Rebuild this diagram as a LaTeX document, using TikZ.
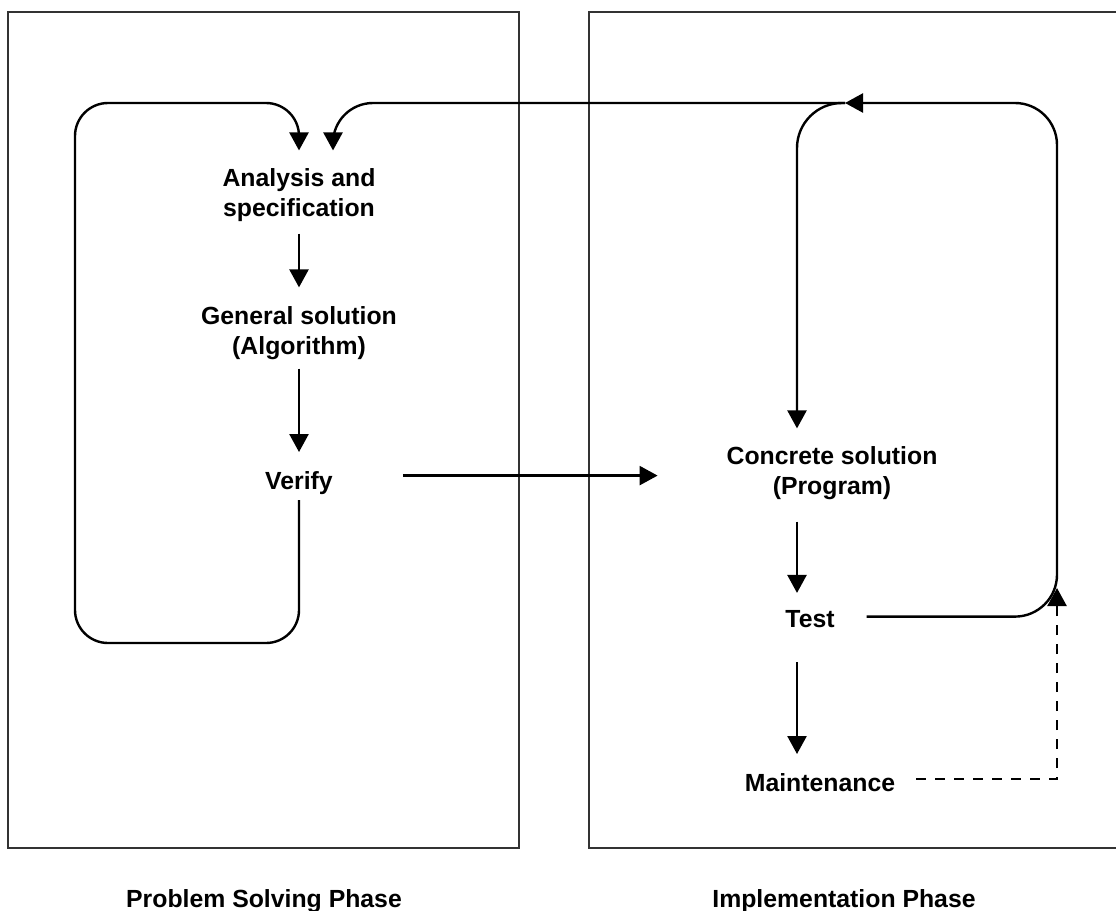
\documentclass[tikz,border=0pt]{standalone}
\usepackage{fontspec}
\setmainfont{Liberation Sans}
\usetikzlibrary{arrows.meta,calc}
\begin{document}
\begin{tikzpicture}[x=1pt,y=-1pt,
  lbl/.style={font=\bfseries\fontsize{24.8}{30}\selectfont, inner sep=0pt, outer sep=0pt, align=center},
  tip/.style={-{Triangle[width=19pt,length=18pt]}},
  arr/.style={line width=2.4pt, tip},
  frame/.style={line width=2.5pt, draw=black!80},
  dashline/.style={line width=2.4pt, dash pattern=on 10pt off 9pt}
]
\useasboundingbox[fill=white] (0,0) rectangle (1116,910);
% phase frames
\draw[frame] (8,12) rectangle (519,848);
\draw[frame] (1116,12) -- (589,12) -- (589,848) -- (1116,848);

% nodes
\node[lbl, anchor=center] (ana) at (299,195) {Analysis and\\specification};
\node[lbl, anchor=center] (gen) at (299,333) {General solution\\(Algorithm)};
\node[lbl, anchor=base]   (ver) at (299,489) {Verify};
\node[lbl, anchor=center] (con) at (832,473) {Concrete solution\\(Program)};
\node[lbl, anchor=base]   (tst) at (810,627) {Test};
\node[lbl, anchor=base]   (mnt) at (820,791) {Maintenance};
\node[lbl, anchor=base]   (psp) at (264,907) {Problem Solving Phase};
\node[lbl, anchor=base]   (ipl) at (844,907) {Implementation Phase};

% loop corner coordinates
\coordinate (LB) at (75,643);
\coordinate (LT) at (75,103);
\coordinate (RT) at (1057,103);
\coordinate (JN) at (845,103);
\coordinate (CT) at (797,103);
\coordinate (DT) at (1057,588);

% left column
\draw[arr] ([yshift=-12pt]ana.south) -- ([yshift=19pt]gen.north);
\draw[arr] ([yshift=-9pt]gen.south) -- ([yshift=19pt]ver.north);
\draw[arr, rounded corners=33pt] ([yshift=-6pt]ver.south) |- (LB) -- (LT) -| ([yshift=18pt]ana.north);

% verify -> concrete
\draw[arr] ([xshift=70pt,yshift=7pt]ver.east) coordinate (vs) -- ([xshift=-69pt]vs -| con.west);

% right column
\draw[arr] ([yshift=-22pt]con.south -| CT) -- ([yshift=17pt]tst.north -| CT);
\draw[arr] ([yshift=-35pt]tst.south -| CT) -- ([yshift=19pt]mnt.north -| CT);

% feedback loop
\draw[arr, rounded corners=42pt] ([xshift=32pt,yshift=2pt]tst.east) -| (RT) -- (JN);
\draw[arr, rounded corners=45pt] (JN) -- (CT) -- ([yshift=18pt]con.north -| CT);
\draw[arr, rounded corners=40pt] (JN) -| ([xshift=34pt,yshift=18pt]ana.north);

% maintenance dashed feedback
\draw[dashline, tip] ([xshift=21pt,yshift=3pt]mnt.east) -| (DT);
\end{tikzpicture}
\end{document}
